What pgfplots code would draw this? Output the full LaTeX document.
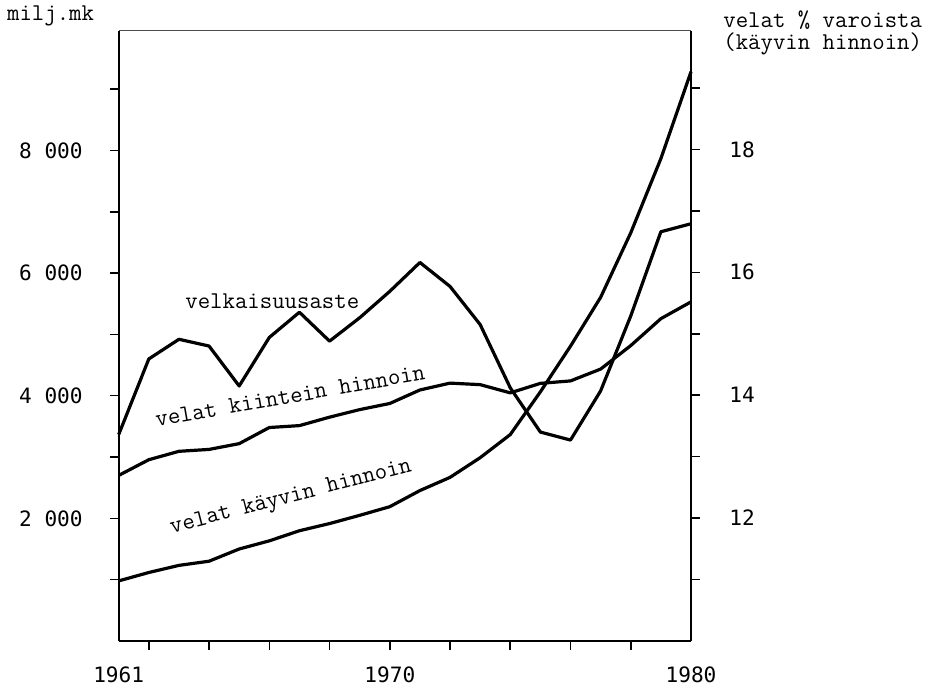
\documentclass[border=0pt]{standalone}
\usepackage{pgfplots}
\pgfplotsset{compat=1.18}
\usepackage{pgfplotstable}
\usepackage{fontspec}
\setmainfont{Liberation Mono}
\newfontfamily\tickfont{DejaVu Sans Mono}
\newcommand\lab{\ttfamily\fontsize{12.1}{14}\selectfont}

\pgfplotstableread{
year val
1961 13.36
1962 14.59
1963 14.91
1964 14.80
1965 14.15
1966 14.94
1967 15.35
1968 14.88
1969 15.26
1970 15.69
1971 16.16
1972 15.77
1973 15.15
1974 14.12
1975 13.40
1976 13.27
1977 14.07
1978 15.29
1979 16.66
1980 16.79
}\velkaisuus

\pgfplotstableread{
year val
1961 2700
1962 2956
1963 3093
1964 3124
1965 3218
1966 3481
1967 3512
1968 3650
1969 3773
1970 3873
1971 4093
1972 4205
1973 4180
1974 4046
1975 4201
1976 4241
1977 4434
1978 4817
1979 5256
1980 5530
}\kiintein

\pgfplotstableread{
year val
1961 980
1962 1117
1963 1233
1964 1301
1965 1500
1966 1633
1967 1798
1968 1915
1969 2049
1970 2190
1971 2453
1972 2668
1973 2989
1974 3366
1975 4063
1976 4808
1977 5604
1978 6656
1979 7866
1980 9282
}\kayvin

\begin{document}
\fontsize{10.6}{12.7}\selectfont
\begin{tikzpicture}
\useasboundingbox (-59.35bp,-25bp) rectangle (406.65bp,320.5bp);
\pgfplotsset{
  common/.style={
    at={(0,0)}, anchor=south west,
    scale only axis, width=286.15bp, height=305.1bp,
    xmin=1961, xmax=1980,
    axis line style={-, line width=0.85bp, black},
    tick align=outside,
    major tick length=4.5bp,
    every tick/.style={black, line width=0.8bp},
    ticklabel style={font=\tickfont},
    clip=false,
  },
  curve/.style={black, line width=1.6bp, line join=round, mark=none},
}
\begin{axis}[
  common,
  ymin=0, ymax=9950,
  axis x line*=bottom, axis y line*=left,
  xtick={1962,1964,...,1978}, xticklabels={},
  extra x ticks={1961,1970,1980},
  extra x tick labels={1961,1970,1980},
  extra x tick style={major tick length=0pt},
  xticklabel style={yshift=-9bp},
  ytick={1000,2000,...,9000},
  yticklabels={{},{2 000},{},{4 000},{},{6 000},{},{8 000},{}},
  yticklabel style={xshift=-9.8bp},
]
\addplot[curve] table[x=year,y=val] {\kiintein};
\addplot[curve] table[x=year,y=val] {\kayvin};
\draw[line width=0.4bp, black!70] (rel axis cs:0,1) -- (rel axis cs:1,1);
\node[anchor=base, inner sep=0pt, font=\lab] at (axis cs:1966.1,5418) {velkaisuusaste};
\node[anchor=base, inner sep=0pt, rotate=10, font=\lab] at (axis cs:1966.73,3878) {velat kiintein hinnoin};
\node[anchor=base, inner sep=0pt, rotate=14.5, font=\lab] at (axis cs:1966.76,2264) {velat käyvin hinnoin};
\end{axis}
\begin{axis}[
  common,
  ymin=10, ymax=19.93,
  axis x line=none, axis y line*=right,
  ytick={11,12,...,19},
  yticklabels={{},12,{},14,{},16,{},18,{}},
  yticklabel style={xshift=11bp},
]
\addplot[curve] table[x=year,y=val] {\velkaisuus};
\end{axis}
\node[anchor=base west, inner sep=0pt, font=\lab] at (-56bp,310.15bp) {milj.mk};
\node[anchor=base west, inner sep=0pt, font=\lab] at (302.15bp,306.85bp) {velat \% varoista};
\node[anchor=base west, inner sep=0pt, font=\lab] at (302.15bp,295.5bp) {(käyvin hinnoin)};
\end{tikzpicture}
\end{document}
